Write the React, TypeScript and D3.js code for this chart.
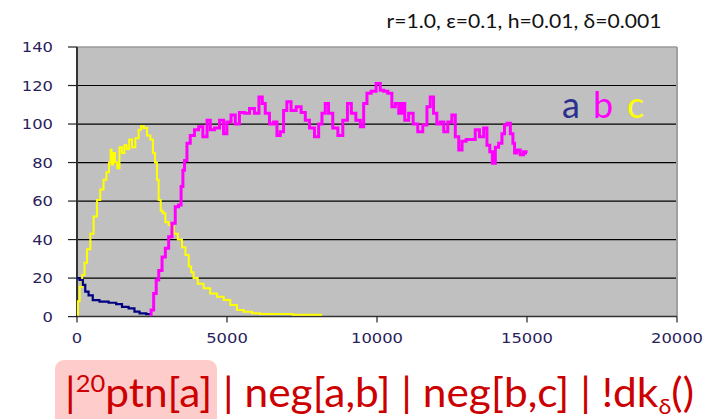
import React from "react";
import * as d3 from "d3";

// ---- data (time, count) ----
const aSeries: [number, number][] = [
  [0, 20], [170, 19], [220, 16.5], [330, 13], [440, 11], [610, 8.6], [890, 7.8],
  [1220, 7.2], [1390, 6.5], [1610, 5.1], [1830, 4.3], [2000, 2.6], [2170, 1.7], [2440, 1.3],
];

const cSeries: [number, number][] = [
  [0, 1], [60, 8], [120, 15.5], [220, 21.6], [280, 28], [390, 35], [500, 43], [610, 52],
  [720, 60.5], [830, 66], [940, 71], [1020, 75], [1110, 80], [1130, 86.6], [1180, 79],
  [1230, 85], [1300, 80], [1390, 77], [1440, 88], [1550, 85], [1610, 89], [1700, 87],
  [1780, 92], [1890, 88], [2000, 92.6], [2110, 97], [2170, 99], [2280, 98], [2390, 94],
  [2500, 92], [2560, 85], [2640, 80], [2690, 71], [2750, 60.5], [2830, 55], [2890, 53.7],
  [3000, 49], [3110, 47.6], [3170, 46.7], [3280, 43], [3440, 40], [3560, 36], [3670, 32],
  [3780, 26], [3830, 23], [3940, 20], [4110, 17], [4330, 14.7], [4550, 12], [4780, 10.3],
  [5000, 8.6], [5220, 6], [5440, 3.4], [5670, 2.5], [6000, 1.7], [6200, 1.3], [8170, 1],
];

const bSeries: [number, number][] = [
  [2440, 1], [2500, 3.4], [2610, 12], [2670, 19], [2780, 24], [2890, 31], [3000, 35.5],
  [3110, 41.5], [3220, 48.5], [3330, 57], [3440, 58], [3500, 67.5], [3560, 76], [3610, 81],
  [3720, 90], [3830, 94], [4000, 97], [4110, 98.6], [4280, 93.4], [4390, 102], [4500, 97],
  [4670, 98], [4830, 102], [4940, 95], [5050, 101], [5220, 104.7], [5330, 100], [5500, 106],
  [5670, 105.6], [5830, 108], [6000, 105.6], [6130, 114], [6220, 110.7], [6330, 105.6],
  [6500, 100], [6610, 101], [6720, 94], [6830, 96], [6940, 107], [7050, 111.6], [7220, 107],
  [7390, 109], [7550, 106], [7670, 102], [7830, 98], [8000, 93.4], [8110, 100], [8220, 105.6],
  [8330, 110.7], [8440, 105.6], [8610, 98], [8780, 94], [8940, 102], [9090, 110.7],
  [9200, 105.6], [9390, 102], [9500, 98.6], [9610, 110.7], [9720, 116], [9890, 117],
  [10050, 121], [10170, 117.6], [10280, 117], [10440, 116], [10550, 109], [10670, 110.7],
  [10780, 105.6], [10870, 110.7], [10980, 102], [11130, 105.6], [11280, 100], [11440, 96],
  [11610, 99.5], [11720, 109], [11830, 114], [11940, 105.6], [12050, 100], [12170, 101],
  [12280, 96], [12440, 101], [12550, 104.7], [12670, 93.4], [12780, 86.5], [12890, 91],
  [13050, 92], [13220, 92], [13330, 97], [13500, 93.4], [13610, 98], [13720, 89], [13800, 85.6],
  [13890, 79.6], [14000, 88], [14110, 90], [14220, 95], [14280, 99.5], [14390, 100.4],
  [14500, 95], [14560, 90], [14610, 85], [14720, 86.5], [14830, 84], [14940, 85.6], [15000, 85],
];

const yTicks = [0, 20, 40, 60, 80, 100, 120, 140];
const xTicks = [0, 5000, 10000, 15000, 20000];
const legendLabels = ["a", "b", "c"];
const titleText = "r=1.0, \u03b5=0.1, h=0.01, \u03b4=0.001";

const W = 711;
const H = 419;
const PL = 77, PR = 677, PT = 47, PB = 316.6;

const COLORS = { a: "#000080", b: "#ff00ff", c: "#ffff00" };
const LEGEND_COLORS = ["#2b2f8f", "#ff00ff", "#ffff00"];
const TICK_COLOR = "#2a1e5c";

export default function App() {
  const x = d3.scaleLinear().domain([0, 20000]).range([PL, PR]);
  const y = d3.scaleLinear().domain([0, 140]).range([PB, PT]);
  const line = d3
    .line<[number, number]>()
    .x((d) => x(d[0]))
    .y((d) => y(d[1]))
    .curve(d3.curveStep);

  const legendX = [562, 593, 627];

  return (
    <svg
      width={W}
      height={H}
      style={{ position: "absolute", left: 0, top: 0, background: "#fff" }}
      fontFamily="Lato, 'Open Sans', sans-serif"
    >
      {/* title */}
      <text x={386.5} y={28} fontSize={19} fill="#111" textLength={275} lengthAdjust="spacingAndGlyphs">
        {titleText}
      </text>

      {/* plot area */}
      <rect x={PL} y={PT} width={PR - PL} height={PB - PT} fill="#c0c0c0" />
      {yTicks.filter((t) => t > 0 && t < 140).map((t) => (
        <line key={t} x1={PL} x2={PR} y1={y(t)} y2={y(t)} stroke="#000" strokeWidth={1.2} />
      ))}
      <line x1={PL} x2={PR} y1={y(140)} y2={y(140)} stroke="#9a9a9a" strokeWidth={1.5} />
      <line x1={PR} x2={PR} y1={PT} y2={PB} stroke="#a0a0a0" strokeWidth={2} />

      {/* axes */}
      <line x1={PL} x2={PL} y1={PT} y2={PB} stroke="#333" strokeWidth={2} />
      <line x1={PL - 1} x2={PR} y1={PB} y2={PB} stroke="#333" strokeWidth={1.5} />
      {yTicks.map((t) => (
        <g key={"yt" + t}>
          <line x1={PL - 9} x2={PL} y1={y(t)} y2={y(t)} stroke="#222" strokeWidth={1.2} />
          <text
            x={53}
            y={y(t) + 5}
            textAnchor="end"
            fontFamily="'DejaVu Sans', sans-serif"
            fontSize={14}
            fill={TICK_COLOR}
            textLength={String(t).length * 10.4}
            lengthAdjust="spacingAndGlyphs"
          >
            {t}
          </text>
        </g>
      ))}
      {xTicks.map((t) => (
        <g key={"xt" + t}>
          <line x1={x(t)} x2={x(t)} y1={PB} y2={PB + 6} stroke="#222" strokeWidth={1.2} />
          <text
            x={x(t)}
            y={343}
            textAnchor="middle"
            fontFamily="'DejaVu Sans', sans-serif"
            fontSize={14}
            fill={TICK_COLOR}
            textLength={String(t).length * 10.4}
            lengthAdjust="spacingAndGlyphs"
          >
            {t}
          </text>
        </g>
      ))}

      {/* series */}
      <path d={line(cSeries) || ""} fill="none" stroke={COLORS.c} strokeWidth={2} />
      <path d={line(aSeries) || ""} fill="none" stroke={COLORS.a} strokeWidth={2.2} />
      <path d={line(bSeries) || ""} fill="none" stroke={COLORS.b} strokeWidth={3} />

      {/* legend letters */}
      {legendLabels.map((l, i) => (
        <text key={l} x={legendX[i]} y={118} fontSize={36} fill={LEGEND_COLORS[i]}>
          {l}
        </text>
      ))}

      {/* bottom formula */}
      <rect x={55} y={360} width={162} height={75} rx={9} ry={9} fill="#ffcccc" />
      <text x={65} y={407} fontSize={40} fill="#cc0000" textLength={629} lengthAdjust="spacingAndGlyphs">
        <tspan>|</tspan>
        <tspan fontSize={24} dy={-15}>20</tspan>
        <tspan dy={15}>ptn[a] | neg[a,b] | neg[b,c] | !dk</tspan>
        <tspan fontSize={22} dy={7}>δ</tspan>
        <tspan dy={-7}>()</tspan>
      </text>
    </svg>
  );
}
